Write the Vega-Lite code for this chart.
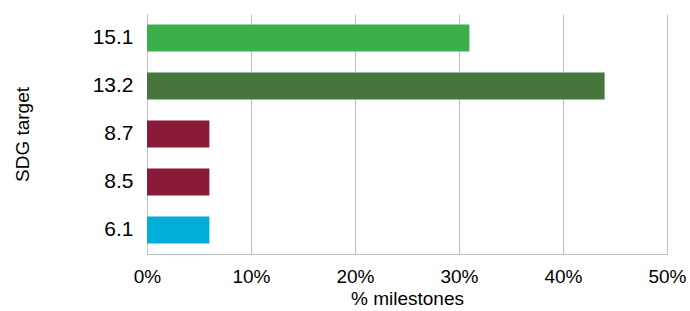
{
  "$schema": "https://vega.github.io/schema/vega-lite/v6.json",
  "width": 520,
  "height": 240,
  "autosize": {"type": "none"},
  "padding": {"left": 147, "top": 14, "right": 23, "bottom": 57},
  "background": "white",
  "config": {
    "view": {"stroke": null},
    "font": "Liberation Sans"
  },
  "data": {
    "values": [
      {"target": "15.1", "pct": 0.31, "color": "#3daf4a"},
      {"target": "13.2", "pct": 0.44, "color": "#46763c"},
      {"target": "8.7", "pct": 0.06, "color": "#8b1a38"},
      {"target": "8.5", "pct": 0.06, "color": "#8b1a38"},
      {"target": "6.1", "pct": 0.06, "color": "#00aed8"}
    ]
  },
  "mark": {"type": "bar"},
  "encoding": {
    "y": {
      "field": "target",
      "type": "nominal",
      "sort": null,
      "scale": {"paddingInner": 0.44, "paddingOuter": 0.22},
      "axis": {
        "title": "SDG target",
        "titleFont": "Liberation Sans",
        "titleFontSize": 19,
        "titleFontWeight": "normal",
        "titleColor": "#000000",
        "titlePadding": 60,
        "labelFont": "Liberation Sans",
        "labelFontSize": 21,
        "labelColor": "#000000",
        "labelPadding": 14,
        "ticks": false,
        "domainColor": "#bfbfbf",
        "domainWidth": 1
      }
    },
    "x": {
      "field": "pct",
      "type": "quantitative",
      "scale": {"domain": [0, 0.5], "nice": false},
      "axis": {
        "title": "% milestones",
        "format": ".0%",
        "values": [0, 0.1, 0.2, 0.3, 0.4, 0.5],
        "labelFlush": false,
        "titleFont": "Liberation Sans",
        "titleFontSize": 19,
        "titleFontWeight": "normal",
        "titleColor": "#000000",
        "titlePadding": 3,
        "labelFont": "Liberation Sans",
        "labelFontSize": 19,
        "labelColor": "#000000",
        "labelPadding": 13,
        "ticks": false,
        "grid": true,
        "gridColor": "#bfbfbf",
        "gridWidth": 1,
        "domainColor": "#bfbfbf",
        "domainWidth": 1
      }
    },
    "color": {"field": "color", "type": "nominal", "scale": null, "legend": null}
  }
}
